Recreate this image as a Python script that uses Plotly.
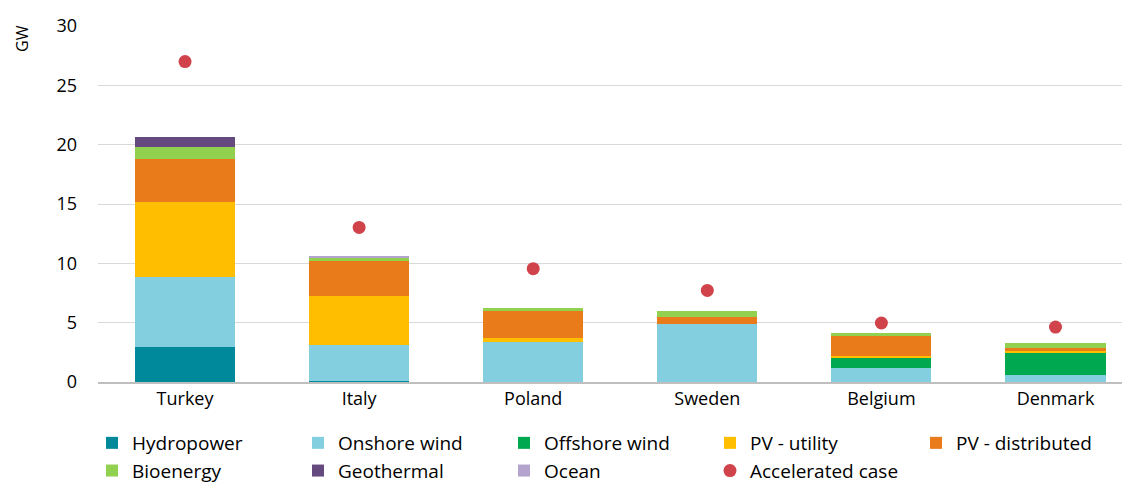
import plotly.graph_objects as go

countries = ["Turkey", "Italy", "Poland", "Sweden", "Belgium", "Denmark"]
hydropower = [2.97, 0.1, 0.0, 0.0, 0.0, 0.0]
onshore_wind = [5.9, 3.0, 3.34, 4.91, 1.2, 0.59]
offshore_wind = [0.0, 0.0, 0.0, 0.0, 0.85, 1.88]
pv_utility = [6.33, 4.13, 0.39, 0.0, 0.14, 0.14]
pv_distributed = [3.56, 2.97, 2.27, 0.59, 1.77, 0.28]
bioenergy = [1.04, 0.25, 0.26, 0.5, 0.14, 0.37]
geothermal = [0.86, 0.0, 0.0, 0.0, 0.0, 0.0]
ocean = [0.0, 0.13, 0.0, 0.0, 0.0, 0.0]
accelerated = [27.0, 13.03, 9.55, 7.72, 4.97, 4.63]

series = [
    ("Hydropower", hydropower, "#00889b"),
    ("Onshore wind", onshore_wind, "#83cfe0"),
    ("Offshore wind", offshore_wind, "#00a84f"),
    ("PV - utility", pv_utility, "#ffbe00"),
    ("PV - distributed", pv_distributed, "#e97b1b"),
    ("Bioenergy", bioenergy, "#92d050"),
    ("Geothermal", geothermal, "#654a7f"),
    ("Ocean", ocean, "#b4a3cd"),
]

FONT = "Open Sans"
OFF = 8  # default page body margin
W, H = 1130 - OFF, 483 - OFF
ML, MT, MB = 98 - OFF, 26 - OFF, 101

fig = go.Figure()
for name, vals, col in series:
    fig.add_trace(go.Bar(x=countries, y=vals, name=name, marker=dict(color=col, line=dict(width=0)),
                         width=0.575))
fig.add_trace(go.Scatter(x=countries, y=accelerated, mode="markers", name="Accelerated case",
                         marker=dict(color="#d1434b", size=13)))

pw = W - ML
ph = H - MT - MB
fig.update_layout(
    barmode="stack",
    width=W, height=H,
    margin=dict(l=ML, r=0, t=MT, b=MB, autoexpand=False),
    plot_bgcolor="white", paper_bgcolor="white",
    font=dict(family=FONT, size=18, color="#000000"),
    showlegend=True,
    legend=dict(orientation="h", xref="container", yref="container",
                x=(92 - OFF) / W, y=1 - (424 - OFF) / H, xanchor="left", yanchor="top",
                entrywidth=161, entrywidthmode="pixels", traceorder="normal",
                font=dict(family=FONT, size=19), itemwidth=30, tracegroupgap=0),
    xaxis=dict(range=[-0.5, 5.428], showline=True, linecolor="#bfbfbf", linewidth=1.5,
               ticks="", tickfont=dict(size=18), showgrid=False, automargin=False),
    yaxis=dict(range=[0, 30], dtick=5, showgrid=True, gridcolor="#d9d9d9", gridwidth=1,
               zeroline=False, ticks="", tickfont=dict(size=18, color="#000000"),
               ticklabelstandoff=20, automargin=False),
    annotations=[dict(text="GW", textangle=-90, xref="paper", yref="paper",
                      x=(22 - 98) / pw, y=(382 - 39) / ph, xanchor="center", yanchor="middle",
                      showarrow=False, font=dict(size=16))],
)
fig.write_html("out.html")
